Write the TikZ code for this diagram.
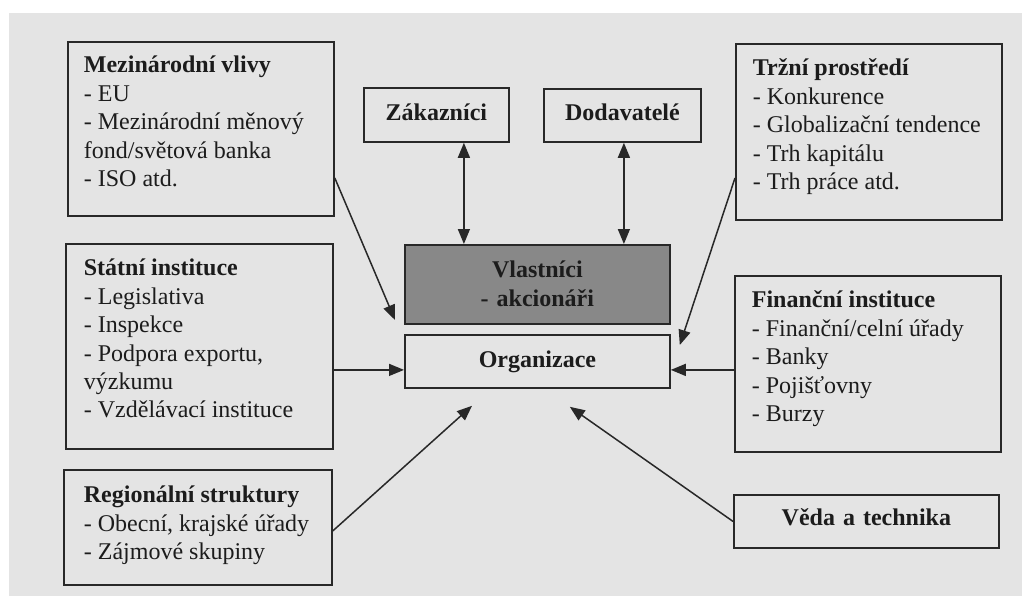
\documentclass[tikz,border=0pt]{standalone}
\usepackage{fontspec}
\setmainfont{Liberation Serif}
\usetikzlibrary{arrows.meta,calc}
\definecolor{bgc}{RGB}{228,228,228}
\definecolor{linec}{RGB}{40,40,40}
\definecolor{txtc}{RGB}{28,28,28}
\definecolor{vlafill}{RGB}{136,136,136}
\newcommand\dfont{\fontsize{24pt}{28.4pt}\selectfont}
\newcommand\lstbox[3]{\makebox[#2][l]{\begin{tabular}[t]{@{\hspace*{#1}}l@{}}#3\end{tabular}}}
\tikzset{
  bx/.style={draw=linec, line width=1.8pt, inner sep=0pt, anchor=north west, text=txtc, font=\dfont},
  arr/.style={draw=linec, line width=1.5pt, -{Triangle[length=15pt,width=12pt]}},
  dbl/.style={draw=linec, line width=1.5pt, {Triangle[length=15pt,width=12pt]}-{Triangle[length=15pt,width=12pt]}}
}
\begin{document}
\begin{tikzpicture}[x=1pt,y=-1pt]
\useasboundingbox (0,0) rectangle (1022,597);
\fill[white] (0,0) rectangle (1022,597);
\fill[bgc] (9,13) rectangle (1022,596);

\node[bx, text height=31pt, text depth=143pt] (mez) at (67,41)
  {\lstbox{16pt}{266pt}{\textbf{Mezinárodní vlivy}\\- EU\\- Mezinárodní měnový\\fond/světová banka\\- ISO atd.}};
\node[bx, align=center, text width=145pt, text height=33pt, text depth=21pt] (zak) at (363,87) {\textbf{Zákazníci}};
\node[bx, align=center, text width=157pt, text height=32pt, text depth=21pt] (dod) at (543,88) {\textbf{Dodavatelé}};
\node[bx, text height=32pt, text depth=144pt] (trz) at (735,43)
  {\lstbox{17pt}{266pt}{\textbf{Tržní prostředí}\\- Konkurence\\- Globalizační tendence\\- Trh kapitálu\\- Trh práce atd.}};
\node[bx, align=center, fill=vlafill, text width=265pt, text height=33pt, text depth=46pt] (vla) at (404,244)
  {\textbf{Vlastníci}\\\textbf{- akcionáři}};
\node[bx, align=center, text width=265pt, text height=33pt, text depth=20pt] (org) at (404,334) {\textbf{Organizace}};
\node[bx, text height=32pt, text depth=173pt] (sta) at (65,243)
  {\lstbox{18pt}{267pt}{\textbf{Státní instituce}\\- Legislativa\\- Inspekce\\- Podpora exportu,\\výzkumu\\- Vzdělávací instituce}};
\node[bx, text height=32pt, text depth=144pt] (fin) at (734,275)
  {\lstbox{17pt}{266pt}{\textbf{Finanční instituce}\\- Finanční/celní úřady\\- Banky\\- Pojišťovny\\- Burzy}};
\node[bx, text height=33pt, text depth=82pt] (reg) at (63,469)
  {\lstbox{20pt}{268pt}{\textbf{Regionální struktury}\\- Obecní, krajské úřady\\- Zájmové skupiny}};
\node[bx, align=center, text width=265pt, text height=31pt, text depth=22pt] (ved) at (733,494) {\textbf{Věda a technika}};

\coordinate (p2) at ($(org.west)+(0,8.5)$);
\coordinate (z1) at ($(zak.south)+(27.5,0)$);
\coordinate (d1) at ($(dod.south)+(1.5,0)$);

\draw[arr] ($(mez.north east)+(0,137)$) -- ($(org.north west)+(-9,-14)$);
\draw[arr] (sta.east |- p2) -- (org.west |- p2);
\draw[arr] ($(reg.east)+(0,3.5)$) -- ($(org.south west)+(68,17)$);
\draw[dbl] (z1) -- (z1 |- vla.north);
\draw[dbl] (d1) -- (d1 |- vla.north);
\draw[arr] ($(trz.north west)+(0,135)$) -- ($(org.north east)+(9,11)$);
\draw[arr] (fin.west |- p2) -- (org.east |- p2);
\draw[arr] (ved.west) -- ($(org.south east)+(-101,18)$);
\end{tikzpicture}
\end{document}
